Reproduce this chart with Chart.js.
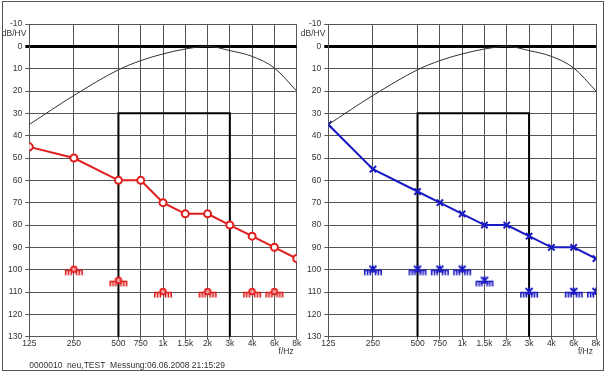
<!DOCTYPE html>
<html><head><meta charset="utf-8">
<script src="https://cdn.jsdelivr.net/npm/chart.js@4"></script>
<style>
body{margin:0;background:#fff;}
#wrap{position:relative;width:615px;height:376px;}
#frame{position:absolute;left:2px;top:1px;width:600px;height:368px;border:1px solid #555;}
canvas{position:absolute;left:0;top:0;}
</style></head><body>
<div id="wrap"><div id="frame"></div>
<canvas id="left" width="615" height="376"></canvas>
<canvas id="right" width="615" height="376"></canvas></div>
<script>
// frequency axis: octave index from 125 Hz, half-octave steps above 500
const freqLabels = ['125', '250', '500', '750', '1k', '1.5k', '2k', '3k', '4k', '6k', '8k'];
const freqOct = [0, 1, 2, 2.5, 3, 3.5, 4, 4.5, 5, 5.5, 6];
const normCurve = [35, 22, 10.5, 6.4, 3.4, 1.2, 0, 1.9, 4.5, 9.7, 20];

const redAir = [45, 50, 60, 60, 70, 75, 75, 80, 85, 90, 95];
const redUclOct = [1, 2, 3, 4, 5, 5.5];
const redUcl = [100, 105, 110, 110, 110, 110];

const blueAir = [35, 55, 65, 70, 75, 80, 80, 85, 90, 90, 95];
const blueUclOct = [1, 2, 2.5, 3, 3.5, 4.5, 5.5, 6];
const blueUcl = [100, 100, 100, 100, 105, 110, 110, 110];

const boxOct = [2, 4.5];
const boxDb = [30, 130];

const RED = '#e01c1c';
const BLUE = '#1a1ac4';
const FONT = 'Liberation Sans, Arial, sans-serif';

function pts(xs, ys) {
    return xs.map((x, i) => ({x: x, y: ys[i]}));
}

// comb marker: symbol on a bar with little arches hanging below
function combMarker(color, cross) {
    const c = document.createElement('canvas');
    c.width = 22; c.height = 20;
    const g = c.getContext('2d');
    g.strokeStyle = color;
    g.fillStyle = color;
    g.lineWidth = 1.6;
    g.beginPath();
    g.moveTo(2, 10.5); g.lineTo(20, 10.5);
    [2.8, 5.6, 8.4, 13.6, 16.4, 19.2].forEach(x => {
        g.moveTo(x, 10.5); g.lineTo(x, 15.5);
    });
    g.stroke();
    if (cross) {
        g.lineWidth = 1.8;
        g.beginPath();
        g.moveTo(7.5, 6); g.lineTo(14.5, 13);
        g.moveTo(14.5, 6); g.lineTo(7.5, 13);
        g.moveTo(11, 5.5); g.lineTo(11, 13);
        g.stroke();
    } else {
        g.lineWidth = 1.8;
        g.beginPath();
        g.arc(11, 9.5, 2.8, 0, Math.PI * 2);
        g.fillStyle = '#f4a0a0';
        g.fill();
        g.stroke();
    }
    return c;
}

const audioPlugin = {
    id: 'audio',
    beforeDatasetsDraw(chart) {
        const {ctx, scales: {x, y}} = chart;
        const x1 = x.getPixelForValue(boxOct[0]), x2 = x.getPixelForValue(boxOct[1]);
        const y1 = y.getPixelForValue(boxDb[0]), y2 = y.getPixelForValue(boxDb[1]);
        ctx.save();
        ctx.strokeStyle = '#000';
        ctx.lineWidth = 2;
        ctx.beginPath();
        ctx.moveTo(x1, y2); ctx.lineTo(x1, y1); ctx.lineTo(x2, y1); ctx.lineTo(x2, y2);
        ctx.stroke();
        ctx.restore();
    },
    afterDraw(chart, args, opts) {
        const {ctx, chartArea: a} = chart;
        ctx.save();
        ctx.fillStyle = '#333';
        ctx.font = '8.5px ' + FONT;
        ctx.textBaseline = 'middle';
        ctx.textAlign = 'right';
        ctx.fillText('dB/HV', a.left - 3, 34);
        ctx.fillText('f/Hz', a.right - 3, 352);
        if (opts.footer) {
            ctx.textAlign = 'left';
            ctx.fillText(opts.footer, a.left, 366);
        }
        ctx.restore();
    }
};

function makeChart(id, air, uclOct, ucl, color, cross, padLeft, padRight, yWidth, footer) {
    return new Chart(document.getElementById(id), {
        type: 'line',
        data: {
            datasets: [{
                data: pts(freqOct, normCurve),
                borderColor: '#333',
                borderWidth: 1,
                pointRadius: 0,
                cubicInterpolationMode: 'monotone'
            }, {
                data: pts(freqOct, air),
                borderColor: color,
                borderWidth: 2,
                pointStyle: cross ? 'crossRot' : 'circle',
                pointRadius: cross ? 4.5 : 3.5,
                pointBorderWidth: 2,
                pointBorderColor: color,
                pointBackgroundColor: '#fff',
                tension: 0
            }, {
                data: pts(uclOct, ucl),
                showLine: false,
                pointStyle: combMarker(color, cross),
                pointRadius: 10
            }]
        },
        options: {
            responsive: false,
            animation: false,
            layout: {padding: {left: padLeft, right: padRight, top: 24, bottom: 0}},
            plugins: {
                legend: {display: false},
                tooltip: {enabled: false},
                audio: {footer: footer}
            },
            scales: {
                x: {
                    type: 'linear',
                    min: 0,
                    max: 6,
                    afterBuildTicks: s => { s.ticks = freqOct.map(v => ({value: v})); },
                    afterFit: s => { s.height = 39.3; },
                    ticks: {
                        autoSkip: false,
                        maxRotation: 0,
                        padding: -1,
                        color: '#333',
                        font: {family: FONT, size: 8.5},
                        callback: v => freqLabels[freqOct.indexOf(v)]
                    },
                    grid: {color: '#555', lineWidth: 1, tickLength: 3},
                    border: {color: '#555'}
                },
                y: {
                    reverse: true,
                    min: -10,
                    max: 130,
                    afterFit: s => { s.width = yWidth; },
                    ticks: {
                        stepSize: 10,
                        padding: 3,
                        color: '#333',
                        font: {family: FONT, size: 8.5}
                    },
                    grid: {
                        color: c => c.tick && c.tick.value === 0 ? '#000' : '#555',
                        lineWidth: c => c.tick && c.tick.value === 0 ? 3 : 1,
                        tickLength: 4
                    },
                    border: {color: '#555'}
                }
            }
        },
        plugins: [audioPlugin]
    });
}

makeChart('left', redAir, redUclOct, redUcl, RED, false, 0, 615 - 296.7, 29.3,
    '0000010  neu,TEST  Messung:06.06.2008 21:15:29');
makeChart('right', blueAir, blueUclOct, blueUcl, BLUE, true, 300, 615 - 596, 28.3, null);
</script>
</body></html>
